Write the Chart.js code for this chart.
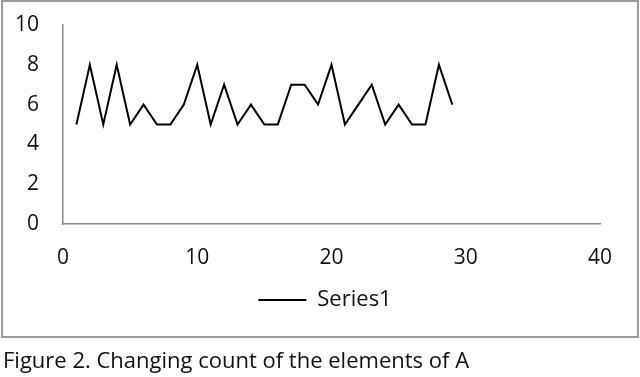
<!DOCTYPE html>
<html>
<head>
<meta charset="utf-8">
<script src="https://cdn.jsdelivr.net/npm/chart.js@4"></script>
<style>
  html, body { margin: 0; padding: 0; background: #fff; width: 640px; height: 377px; overflow: hidden; }
  #wrap { position: absolute; left: 0; top: 0; width: 640px; height: 340px; }
  #frame { position: absolute; left: 1px; top: 0px; width: 634px; height: 334px; border: 2px solid #9a9a9a; pointer-events: none; }
  #caption { position: absolute; left: 3px; top: 348px; font-family: "Open Sans", sans-serif; font-size: 22px; line-height: 22px; color: #111; white-space: nowrap; }
</style>
</head>
<body>
<div id="wrap"><canvas id="c" width="640" height="340"></canvas></div>
<div id="frame"></div>
<div id="caption">Figure 2. Changing count of the elements of A</div>
<script>
const xValues = [1,2,3,4,5,6,7,8,9,10,11,12,13,14,15,16,17,18,19,20,21,22,23,24,25,26,27,28,29];
const series1 = [5,8,5,8,5,6,5,5,6,8,5,7,5,6,5,5,7,7,6,8,5,6,7,5,6,5,5,8,6];
const seriesName = 'Series1';
const xTicks = [0,10,20,30,40];
const yTicks = [0,2,4,6,8,10];

const points = xValues.map((x, i) => ({x: x, y: series1[i]}));
const tickFont = {family: '"Open Sans", sans-serif', size: 21};
const legendFont = {family: '"Open Sans", sans-serif', size: 22};

new Chart(document.getElementById('c'), {
  type: 'line',
  data: {
    datasets: [{
      label: seriesName,
      data: points,
      borderColor: '#000',
      backgroundColor: '#000',
      borderWidth: 2,
      pointRadius: 0,
      tension: 0,
      fill: false
    }]
  },
  options: {
    responsive: false,
    animation: false,
    devicePixelRatio: 1,
    layout: { padding: { left: 10, right: 0, top: 25, bottom: 19 } },
    plugins: {
      tooltip: { enabled: false },
      legend: {
        position: 'bottom',
        labels: {
          usePointStyle: true,
          pointStyle: 'line',
          pointStyleWidth: 48,
          boxHeight: 22,
          color: '#111',
          font: legendFont,
          padding: 10
        }
      }
    },
    scales: {
      x: {
        type: 'linear',
        min: 0, max: 40,
        afterBuildTicks: (s) => { s.ticks = xTicks.map(v => ({value: v})); },
        afterFit: (s) => { s.height = 55; s.paddingLeft = 0; s.paddingRight = 0; },
        grid: { display: false, drawTicks: false },
        border: { display: true, color: '#8a8a8a', width: 1.5 },
        ticks: { color: '#111', font: tickFont, padding: 21, maxRotation: 0 }
      },
      y: {
        type: 'linear',
        min: 0, max: 10,
        afterBuildTicks: (s) => { s.ticks = yTicks.map(v => ({value: v})); },
        afterFit: (s) => { s.width = 53; s.paddingTop = 0; s.paddingBottom = 0; },
        grid: { display: false, drawTicks: false },
        border: { display: true, color: '#8a8a8a', width: 1.5 },
        ticks: { color: '#111', font: tickFont, padding: 24 }
      },
      pad: {
        type: 'linear',
        position: 'right',
        display: true,
        afterFit: (s) => { s.width = 40; s.paddingTop = 0; s.paddingBottom = 0; },
        grid: { display: false, drawTicks: false },
        border: { display: false },
        ticks: { display: false }
      }
    }
  }
});
</script>
</body>
</html>
